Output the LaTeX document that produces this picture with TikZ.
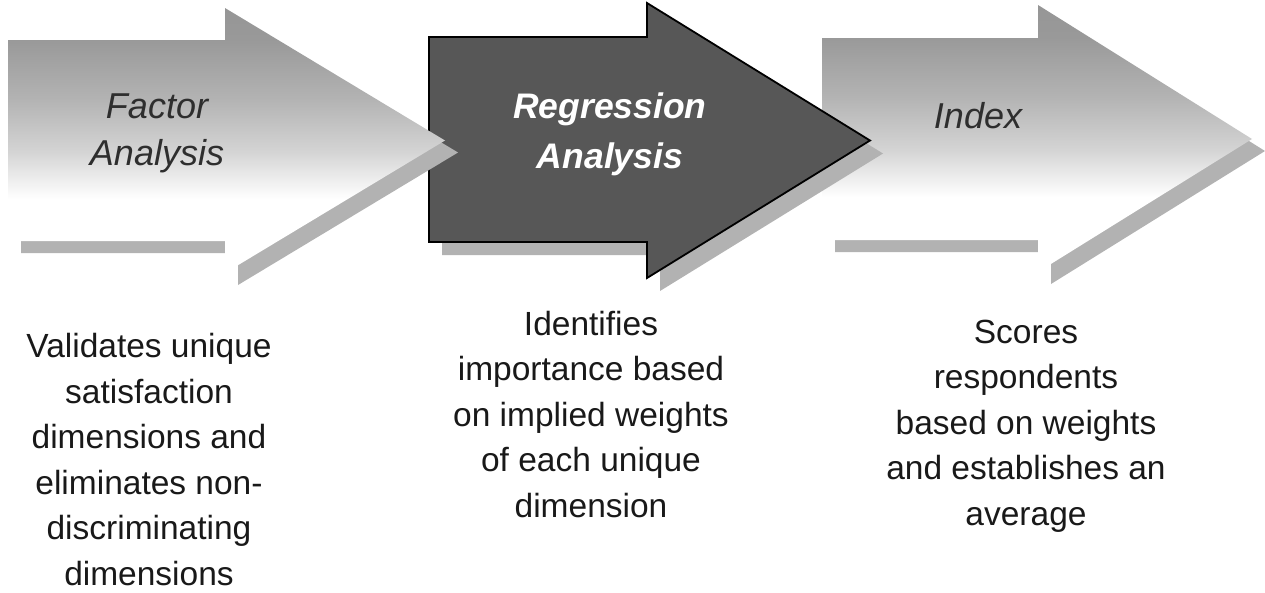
\documentclass[tikz,border=0pt]{standalone}
\usepackage{fontspec}
\setmainfont{Liberation Sans}
\pgfdeclareverticalshading{lightarrowshade}{100bp}{color(0bp)=(white); color(39bp)=(white); color(48bp)=(black!17); color(58bp)=(black!30); color(69bp)=(black!40); color(100bp)=(black!46)}
\definecolor{darkfill}{gray}{0.34}
\definecolor{shadowgray}{gray}{0.70}
\definecolor{titlegray}{gray}{0.18}
\definecolor{descgray}{gray}{0.10}
\begin{document}
\begin{tikzpicture}[x=1pt,y=-1pt,
  lightarrow/.style={shading=lightarrowshade, draw=none},
  darkarrow/.style={fill=darkfill, draw=black, line width=1.8pt, line join=miter},
  arrowshadow/.style={fill=shadowgray, draw=none},
  titletext/.style={font=\fontsize{36}{47}\selectfont\itshape, text=titlegray, align=center, anchor=base, inner sep=0pt},
  boldtitle/.style={titletext, font=\fontsize{35.5}{50}\selectfont\bfseries\itshape, text=white},
  desctext/.style={font=\fontsize{33.5}{45.5}\selectfont, text=descgray, align=center, anchor=base, inner sep=0pt}]
\useasboundingbox (0,0) rectangle (1265,592);
% third arrow (Index)
\path[arrowshadow, shift={(13,12)}] (822,38) -- (1038,38) -- (1038,5) -- (1252,139) -- (1038,272) -- (1038,240) -- (822,240) -- cycle;
\path[lightarrow] (822,38) -- (1038,38) -- (1038,5) -- (1252,139) -- (1038,272) -- (1038,240) -- (822,240) -- cycle;
% second arrow (Regression)
\path[arrowshadow, shift={(13,13)}] (429,37) -- (647,37) -- (647,3) -- (870,140.5) -- (647,278) -- (647,242) -- (429,242) -- cycle;
\path[darkarrow] (429,37) -- (647,37) -- (647,3) -- (870,140.5) -- (647,278) -- (647,242) -- (429,242) -- cycle;
% first arrow (Factor)
\path[arrowshadow, shift={(13,12)}] (8,40) -- (225,40) -- (225,8) -- (445,140.5) -- (225,273) -- (225,241) -- (8,241) -- cycle;
\path[lightarrow] (8,40) -- (225,40) -- (225,8) -- (445,140.5) -- (225,273) -- (225,241) -- (8,241) -- cycle;
% titles (base anchor = baseline of the last line)
\node[titletext] (t1) at (157,165) {Factor\\Analysis};
\node[boldtitle] (t2) at (610,168) {Regression\\Analysis};
\node[titletext] (t3) at (978,128) {Index};
% descriptions
\node[desctext] (d1) at (149,585) {Validates unique\\satisfaction\\dimensions and\\eliminates non-\\discriminating\\dimensions};
\node[desctext] (d2) at (591,517) {Identifies\\importance based\\on implied weights\\of each unique\\dimension};
\node[desctext] (d3) at (1026,525) {Scores\\respondents\\based on weights\\and establishes an\\average};
\end{tikzpicture}
\end{document}
